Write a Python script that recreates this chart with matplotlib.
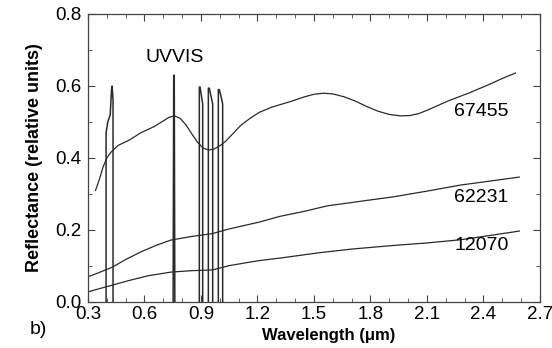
import matplotlib
matplotlib.use("Agg")
import matplotlib.pyplot as plt
from matplotlib.ticker import MultipleLocator

plt.rcParams['font.family'] = ['Liberation Sans', 'DejaVu Sans']

# reflectance spectra
wl_67455 = [0.34, 0.36, 0.38, 0.40, 0.42, 0.46, 0.52, 0.58, 0.65, 0.70, 0.73, 0.76, 0.79,
            0.82, 0.85, 0.88, 0.91, 0.94, 0.97, 1.00, 1.03, 1.07, 1.11, 1.16, 1.21,
            1.28, 1.37, 1.45, 1.50, 1.55, 1.60, 1.66, 1.72, 1.78, 1.84, 1.90, 1.96,
            2.01, 2.06, 2.12, 2.21, 2.32, 2.42, 2.50, 2.57]
r_67455 = [0.31, 0.34, 0.375, 0.40, 0.415, 0.435, 0.45, 0.47, 0.487, 0.503, 0.513, 0.517, 0.51,
           0.492, 0.468, 0.445, 0.428, 0.422, 0.425, 0.434, 0.446, 0.468, 0.49, 0.51, 0.527,
           0.542, 0.556, 0.57, 0.577, 0.58, 0.578, 0.57, 0.558, 0.543, 0.53, 0.521, 0.517,
           0.518, 0.524, 0.537, 0.558, 0.58, 0.602, 0.621, 0.636]

wl_62231 = [0.30, 0.35, 0.43, 0.50, 0.58, 0.66, 0.74, 0.85, 0.96, 1.05, 1.15, 1.21,
            1.32, 1.45, 1.57, 1.75, 1.92, 2.10, 2.28, 2.45, 2.59]
r_62231 = [0.07, 0.08, 0.097, 0.118, 0.139, 0.157, 0.172, 0.182, 0.19, 0.203, 0.215, 0.222,
           0.238, 0.252, 0.267, 0.28, 0.292, 0.308, 0.325, 0.337, 0.347]

wl_12070 = [0.30, 0.36, 0.43, 0.52, 0.62, 0.74, 0.85, 0.96, 1.05, 1.15, 1.21, 1.32,
            1.53, 1.70, 1.92, 2.10, 2.28, 2.45, 2.59]
r_12070 = [0.028, 0.037, 0.047, 0.06, 0.073, 0.083, 0.087, 0.089, 0.101, 0.11, 0.115, 0.122,
           0.137, 0.147, 0.157, 0.164, 0.173, 0.186, 0.197]

# UVVIS narrow windows
uv_wl = [
    [0.396, 0.396, 0.405, 0.418, 0.425, 0.428, 0.433, 0.433],
    [0.752, 0.755, 0.758, 0.761],
    [0.891, 0.891, 0.895, 0.903, 0.909, 0.909],
    [0.939, 0.939, 0.944, 0.954, 0.962, 0.962],
    [0.992, 0.992, 0.997, 1.007, 1.015, 1.015],
]
uv_r = [
    [0.0, 0.47, 0.50, 0.52, 0.59, 0.60, 0.56, 0.0],
    [0.0, 0.63, 0.63, 0.0],
    [0.0, 0.597, 0.597, 0.57, 0.55, 0.0],
    [0.0, 0.594, 0.594, 0.57, 0.55, 0.0],
    [0.0, 0.59, 0.59, 0.57, 0.55, 0.0],
]

sample_names = ['67455', '62231', '12070']

fig = plt.figure(figsize=(5.52, 3.48), dpi=100)
ax = fig.add_axes([88 / 552, 1 - 302 / 348, 452 / 552, 288 / 348])

col = '#2a2a2a'
ax.plot(wl_67455, r_67455, color=col, lw=0.9)
ax.plot(wl_62231, r_62231, color=col, lw=0.9)
ax.plot(wl_12070, r_12070, color=col, lw=0.9)
for xs, ys in zip(uv_wl, uv_r):
    ax.plot(xs, ys, color=col, lw=1.1)

ax.text(0.76, 0.655, 'UVVIS', ha='center', va='bottom', fontsize=14)
ax.text(2.39, 0.53, sample_names[0], ha='center', va='center', fontsize=14)
ax.text(2.39, 0.289, sample_names[1], ha='center', va='center', fontsize=14)
ax.text(2.39, 0.158, sample_names[2], ha='center', va='center', fontsize=14)

ax.set_xlim(0.3, 2.7)
ax.set_ylim(0.0, 0.8)
ax.xaxis.set_major_locator(MultipleLocator(0.3))
ax.xaxis.set_minor_locator(MultipleLocator(0.1))
ax.yaxis.set_major_locator(MultipleLocator(0.2))
ax.yaxis.set_minor_locator(MultipleLocator(0.1))
ax.xaxis.set_major_formatter(plt.FormatStrFormatter('%.1f'))
ax.yaxis.set_major_formatter(plt.FormatStrFormatter('%.1f'))
ax.tick_params(which='both', direction='in', top=True, right=True, color='#444')
ax.tick_params(which='major', length=5, labelsize=13.5)
ax.tick_params(axis='x', which='major', pad=3)
ax.tick_params(axis='y', which='major', pad=5)
ax.tick_params(which='minor', length=3)
for s in ax.spines.values():
    s.set_color('#444')
    s.set_linewidth(0.9)

ax.set_ylabel('Reflectance (relative units)', fontsize=13, fontweight='bold')
ax.set_xlabel('Wavelength (\u03bcm)', fontsize=12, fontweight='bold')
ax.xaxis.set_label_coords((329 - 88) / 452, -0.09)
ax.yaxis.set_label_coords(-0.10, 0.5)
fig.text(30 / 552, 1 - 330 / 348, 'b)', fontsize=14, va='center', ha='left')

fig.savefig('out.png', dpi=100)
